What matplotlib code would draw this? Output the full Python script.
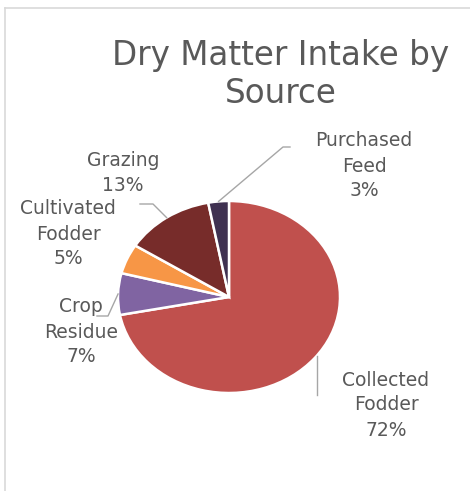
import numpy as np
import matplotlib
matplotlib.use("Agg")
import matplotlib.pyplot as plt
from matplotlib.lines import Line2D

# dry matter intake shares
sources = ["Collected\nFodder", "Crop\nResidue", "Cultivated\nFodder", "Grazing", "Purchased\nFeed"]
shares = [72, 7, 5, 13, 3]
colors = ["#C0504D", "#8064A2", "#F79646", "#772C2A", "#3F3151"]

# label centres (pixels from top-left), leader elbow and the end next to the label
label_pos = [(386, 405), (81, 332), (68, 234), (123, 173), (364, 166)]
elbows = [None, (108, 316), None, (153, 204), (283, 147)]
label_ends = [(317, 395), (97, 316), None, (140, 204), (290, 147)]

W, H = 470, 491
fig = plt.figure(figsize=(W / 100, H / 100), dpi=100)
fig.patch.set_facecolor("white")

def fx(px):
    return px / W

def fy(py):
    return 1 - py / H

# chart area border
fig.add_artist(Line2D([fx(5), fx(470)], [fy(8), fy(8)], color="#D9D9D9", lw=1.2))
fig.add_artist(Line2D([fx(5), fx(5)], [fy(8), fy(491)], color="#D9D9D9", lw=1.2))

fig.text(fx(281), fy(56), "Dry Matter Intake by", ha="center", va="center",
         fontsize=23.5, color="#595959", family="DejaVu Sans")
fig.text(fx(281), fy(94), "Source", ha="center", va="center",
         fontsize=23.5, color="#595959", family="DejaVu Sans")

# pie axes: slightly wider than tall
cx, cy, rx, ry = 229, 297, 111, 96
ax = fig.add_axes([fx(cx - rx), fy(cy + ry), 2 * rx / W, 2 * ry / H])
wedges, _ = ax.pie(shares, colors=colors, startangle=90, counterclock=False,
                   wedgeprops=dict(edgecolor="white", linewidth=1.8))
ax.set_aspect("auto")
ax.set_xlim(-1, 1)
ax.set_ylim(-1, 1)
ax.axis("off")

for i, (name, val) in enumerate(zip(sources, shares)):
    lx, ly = label_pos[i]
    fig.text(fx(lx), fy(ly), f"{name}\n{val}%", ha="center", va="center",
             fontsize=13.5, color="#595959", family="DejaVu Sans", linespacing=1.4)
    if label_ends[i] is None:
        continue
    w = wedges[i]
    sx, sy = label_ends[i]
    if elbows[i] is None:
        # straight drop: meet the rim straight above the label end
        px = sx
        py = cy + ry * np.sqrt(1 - ((sx - cx) / rx) ** 2)
        xs, ys = [px, sx], [py, sy]
    else:
        mid = np.deg2rad((w.theta1 + w.theta2) / 2)
        px = cx + rx * np.cos(mid)
        py = cy - ry * np.sin(mid)
        ex, ey = elbows[i]
        xs, ys = [px, ex, sx], [py, ey, sy]
    fig.add_artist(Line2D([fx(v) for v in xs], [fy(v) for v in ys],
                          color="#A6A6A6", lw=1.0))

fig.savefig("out.png", dpi=100, facecolor="white")
